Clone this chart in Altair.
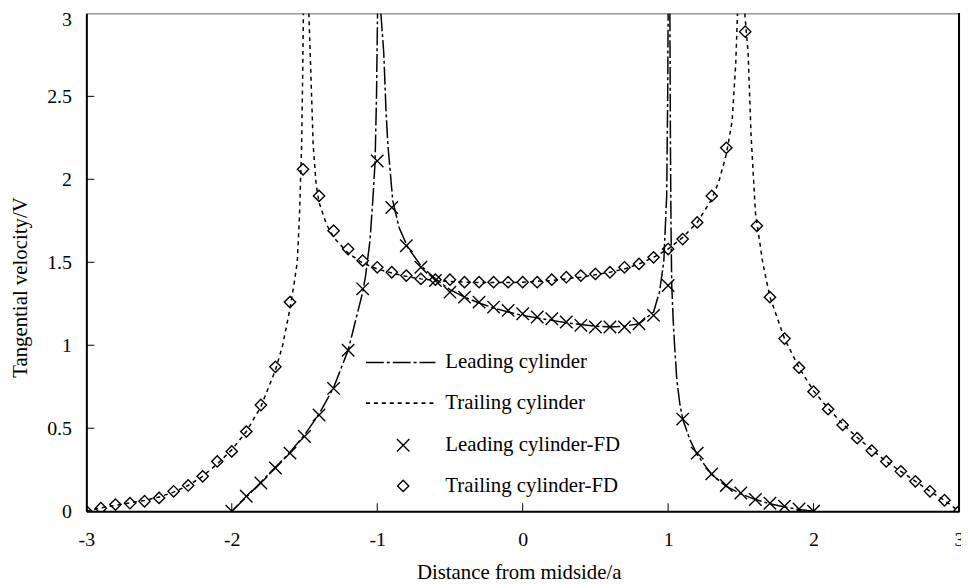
import altair as alt
import pandas as pd

# ---------------- data ----------------
# Leading cylinder (analytic), three branches
lead_left_x = [-2.0, -1.9, -1.8, -1.7, -1.6, -1.5, -1.4, -1.3, -1.2, -1.1, -1.08, -1.05, -1.03, -1.015, -1.005, -0.998]
lead_left_y = [0, 0.085, 0.175, 0.265, 0.355, 0.46, 0.585, 0.745, 0.97, 1.32, 1.42, 1.63, 1.88, 2.1, 2.5, 3.0]
lead_mid_x = [-0.975, -0.955, -0.94, -0.927, -0.893, -0.85, -0.79, -0.7, -0.6, -0.5, -0.4, -0.3, -0.2, -0.1, 0,
              0.1, 0.2, 0.3, 0.4, 0.5, 0.6, 0.7, 0.8, 0.9, 0.94, 0.97, 0.99, 0.997, 1.0]
lead_mid_y = [3.0, 2.76, 2.42, 2.21, 1.87, 1.71, 1.59, 1.48, 1.40, 1.335, 1.29, 1.255, 1.225, 1.20, 1.18,
              1.165, 1.15, 1.135, 1.125, 1.115, 1.11, 1.115, 1.13, 1.2, 1.32, 1.5, 1.9, 2.5, 3.0]
lead_right_x = [1.012, 1.016, 1.02, 1.025, 1.035, 1.045, 1.06, 1.08, 1.1, 1.15, 1.2, 1.3, 1.4, 1.5, 1.6, 1.7, 1.8, 1.9, 2.0]
lead_right_y = [3.0, 2.2, 1.7, 1.36, 1.15, 0.99, 0.79, 0.65, 0.555, 0.43, 0.34, 0.22, 0.15, 0.105, 0.07, 0.045, 0.025, 0.01, 0]

# Trailing cylinder (analytic), three branches
trail_left_x = [-3.0, -2.9, -2.8, -2.7, -2.6, -2.5, -2.4, -2.3, -2.2, -2.1, -2.0, -1.9, -1.8, -1.7, -1.65, -1.6,
                -1.57, -1.55, -1.535, -1.52, -1.513, -1.508]
trail_left_y = [0, 0.02, 0.035, 0.05, 0.065, 0.085, 0.115, 0.155, 0.21, 0.285, 0.37, 0.48, 0.63, 0.85, 1.0, 1.22,
                1.38, 1.5, 1.77, 2.2, 2.6, 3.0]
trail_mid_x = [-1.47, -1.455, -1.44, -1.42, -1.4, -1.35, -1.3, -1.2, -1.1, -1.0, -0.9, -0.8, -0.7, -0.6, -0.5, -0.4,
               -0.3, -0.2, -0.1, 0, 0.1, 0.2, 0.3, 0.4, 0.5, 0.6, 0.7, 0.8, 0.9, 1.0, 1.1, 1.2, 1.3, 1.35, 1.4,
               1.44, 1.465, 1.477]
trail_mid_y = [3.0, 2.6, 2.2, 1.97, 1.86, 1.73, 1.65, 1.555, 1.495, 1.46, 1.435, 1.415, 1.40, 1.39, 1.385, 1.38,
               1.378, 1.378, 1.378, 1.38, 1.385, 1.39, 1.40, 1.41, 1.425, 1.44, 1.46, 1.49, 1.53, 1.58, 1.65, 1.74,
               1.88, 1.99, 2.15, 2.35, 2.7, 3.0]
trail_right_x = [1.527, 1.55, 1.57, 1.6, 1.65, 1.7, 1.8, 1.9, 2.0, 2.1, 2.2, 2.3, 2.4, 2.5, 2.6, 2.7, 2.8, 2.9, 3.0]
trail_right_y = [3.0, 2.76, 2.27, 1.8, 1.5, 1.29, 1.04, 0.865, 0.725, 0.62, 0.525, 0.445, 0.37, 0.30, 0.24, 0.18,
                 0.12, 0.065, 0]

# Finite-difference results
fd_lead_x = [-2.0, -1.9, -1.8, -1.7, -1.6, -1.5, -1.4, -1.3, -1.2, -1.1, -1.0, -0.9, -0.8, -0.7, -0.6, -0.5,
             -0.4, -0.3, -0.2, -0.1, 0.0, 0.1, 0.2, 0.3, 0.4, 0.5, 0.6, 0.7, 0.8, 0.9, 1.0, 1.1, 1.2, 1.3, 1.4,
             1.5, 1.6, 1.7, 1.8, 1.9, 2.0]
fd_lead_y = [0, 0.09, 0.17, 0.26, 0.35, 0.45, 0.58, 0.74, 0.97, 1.34, 2.11, 1.83, 1.60, 1.47, 1.39, 1.32,
             1.29, 1.26, 1.23, 1.21, 1.19, 1.17, 1.16, 1.14, 1.12, 1.11, 1.11, 1.11, 1.13, 1.18, 1.36, 0.555,
             0.35, 0.225, 0.155, 0.11, 0.07, 0.048, 0.03, 0.013, 0]
fd_trail_x = [-3.0, -2.9, -2.8, -2.7, -2.6, -2.5, -2.4, -2.3, -2.2, -2.1, -2.0, -1.9, -1.8, -1.7, -1.6, -1.51,
              -1.4, -1.3, -1.2, -1.1, -1.0, -0.9, -0.8, -0.7, -0.6, -0.5, -0.4, -0.3, -0.2, -0.1, 0.0, 0.1,
              0.2, 0.3, 0.4, 0.5, 0.6, 0.7, 0.8, 0.9, 1.0, 1.1, 1.2, 1.3, 1.4, 1.53, 1.61, 1.7, 1.8, 1.9, 2.0,
              2.1, 2.2, 2.3, 2.4, 2.5, 2.6, 2.7, 2.8, 2.9, 3.0]
fd_trail_y = [0, 0.018, 0.04, 0.048, 0.06, 0.08, 0.12, 0.155, 0.21, 0.30, 0.36, 0.48, 0.64, 0.87, 1.26, 2.06,
              1.90, 1.69, 1.58, 1.51, 1.47, 1.44, 1.42, 1.40, 1.395, 1.395, 1.38, 1.38, 1.38, 1.38, 1.38, 1.38,
              1.395, 1.41, 1.42, 1.43, 1.44, 1.47, 1.49, 1.53, 1.58, 1.64, 1.74, 1.90, 2.19, 2.89, 1.72, 1.29,
              1.04, 0.865, 0.72, 0.615, 0.52, 0.44, 0.365, 0.30, 0.24, 0.18, 0.12, 0.066, 0]

line_names = ["Leading cylinder", "Trailing cylinder"]
fd_names = ["Leading cylinder-FD", "Trailing cylinder-FD"]
x_ticks = [-3, -2, -1, 0, 1, 2, 3]
y_ticks = [0, 0.5, 1, 1.5, 2, 2.5, 3]
x_inner_ticks = [-2, -1, 0, 1, 2]
y_inner_ticks = [0.5, 1, 1.5, 2, 2.5]

# ---------------- tables ----------------
rows = []
branches = [
    (line_names[0], "L1", lead_left_x, lead_left_y),
    (line_names[0], "L2", lead_mid_x, lead_mid_y),
    (line_names[0], "L3", lead_right_x, lead_right_y),
    (line_names[1], "T1", trail_left_x, trail_left_y),
    (line_names[1], "T2", trail_mid_x, trail_mid_y),
    (line_names[1], "T3", trail_right_x, trail_right_y),
]
for name, br, xs_, ys_ in branches:
    for i, (a, b) in enumerate(zip(xs_, ys_)):
        rows.append({"series": name, "branch": br, "order": i, "x": a, "y": b})
lines_df = pd.DataFrame(rows)

fd_df = pd.concat([
    pd.DataFrame({"x": fd_lead_x, "y": fd_lead_y, "fd": fd_names[0]}),
    pd.DataFrame({"x": fd_trail_x, "y": fd_trail_y, "fd": fd_names[1]}),
])

FONT = "Liberation Serif"
xs = alt.Scale(domain=[-3, 3], nice=False, zero=False)
ys = alt.Scale(domain=[0, 3], nice=False, zero=False)

x_axis = alt.Axis(
    values=x_ticks, labelExpr="'' + datum.value", ticks=False, tickSize=0, grid=False, labelFlush=False,
    domainColor="black", domainWidth=2, labelPadding=19, labelFont=FONT, labelFontSize=20,
    labelColor="black", title="Distance from midside/a", titleFont=FONT, titleFontSize=21,
    titleFontWeight="normal", titleColor="black", titleX=436, titleY=68, titleBaseline="alphabetic",
    titleAlign="center",
)
y_axis = alt.Axis(
    values=y_ticks, labelExpr="'' + datum.value", ticks=False, tickSize=0, grid=False, labelFlush=False,
    domainColor="black", domainWidth=2, labelPadding=15, labelFont=FONT, labelFontSize=20,
    labelColor="black", labelOffset={"condition": {"test": "datum.value == 3", "value": 6}, "value": 0},
    title="Tangential velocity/V", titleFont=FONT, titleFontSize=21, titleFontWeight="normal",
    titleColor="black", titleX=-66, titleY=276, titleBaseline="middle", titleAlign="center", titleAngle=-90,
)

DASH_LEAD = [18, 3, 3, 3]
DASH_TRAIL = [4, 4]

lines = alt.Chart(lines_df).mark_line(color="black", clip=True, strokeWidth=1.5).encode(
    x=alt.X("x:Q", scale=xs, axis=x_axis),
    y=alt.Y("y:Q", scale=ys, axis=y_axis),
    strokeDash=alt.StrokeDash(
        "series:N",
        scale=alt.Scale(domain=line_names, range=[DASH_LEAD, DASH_TRAIL]),
        legend=alt.Legend(
            orient="none", legendX=306, legendY=341, padding=0, title=None,
            symbolType="M-3.5,0L3.5,0", symbolSize=400, symbolStrokeWidth=1.6,
            symbolStrokeColor="black", labelFont=FONT, labelFontSize=21, labelColor="black",
            labelOffset=34, rowPadding=20, labelLimit=400,
        ),
    ),
    detail="branch:N",
    order="order:Q",
)

markers = alt.Chart(fd_df).mark_point(
    filled=False, color="black", strokeWidth=1.4, opacity=1, clip=True, size=130
).encode(
    x=alt.X("x:Q", scale=xs),
    y=alt.Y("y:Q", scale=ys),
    shape=alt.Shape(
        "fd:N",
        scale=alt.Scale(domain=fd_names, range=["M-1.1,-1.1L1.1,1.1M-1.1,1.1L1.1,-1.1", "diamond"]),
        legend=alt.Legend(
            orient="none", legendX=309, legendY=425, padding=0, title=None,
            symbolSize=130, symbolStrokeWidth=1.4, symbolStrokeColor="black", symbolFillColor="transparent",
            labelFont=FONT, labelFontSize=21, labelColor="black", labelOffset=32, rowPadding=19,
            labelLimit=400,
        ),
    ),
)

ytick_df = pd.DataFrame({"y": y_inner_ticks})
yticks = alt.Chart(ytick_df).mark_rule(color="black", strokeWidth=1).encode(
    y=alt.Y("y:Q", scale=ys), x=alt.value(0), x2=alt.value(8)
)
xtick_df = pd.DataFrame({"x": x_inner_ticks})
xticks = alt.Chart(xtick_df).mark_rule(color="black", strokeWidth=1).encode(
    x=alt.X("x:Q", scale=xs), y=alt.value(502), y2=alt.value(494)
)
right_border = alt.Chart(ytick_df).mark_rule(color="black", strokeWidth=2).encode(
    x=alt.datum(3, scale=xs), y=alt.value(0), y2=alt.value(502)
)

chart = alt.layer(lines, markers, yticks, xticks, right_border).properties(
    width=880, height=502,
    autosize=alt.AutoSizeParams(type="none"),
    padding={"left": 79, "top": 3, "right": 2, "bottom": 72},
    background="white",
).configure_view(stroke="#666666", strokeWidth=1)

chart.save("out.html", embed_options={"renderer": "svg", "actions": False})
